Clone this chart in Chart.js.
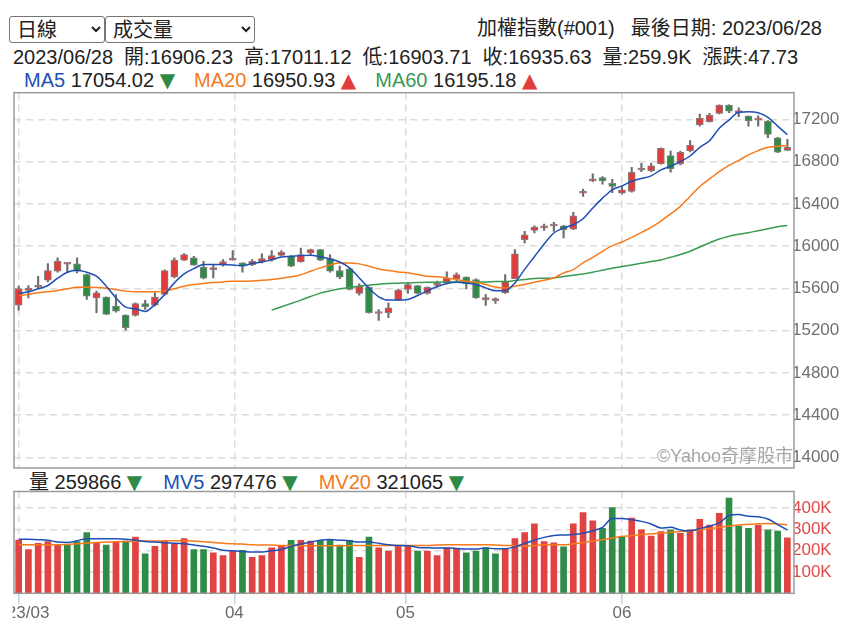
<!DOCTYPE html>
<html>
<head>
<meta charset="utf-8">
<script src="https://cdn.jsdelivr.net/npm/chart.js@4.4.0/dist/chart.umd.min.js"></script>
<style>
html,body{margin:0;padding:0;background:#fff;}
body{width:850px;height:626px;position:relative;overflow:hidden;font-family:"Liberation Sans",Arial,"Noto Sans CJK TC",sans-serif;color:#222;}
.abs{position:absolute;white-space:pre;font-size:20px;line-height:20px;}
select{position:absolute;top:16px;height:27px;font-size:20px;font-family:"Liberation Sans","Noto Sans CJK TC",sans-serif;border:1px solid #767676;border-radius:3px;background:#fff;color:#222;padding:0 0 0 3px;}
.g{margin-left:11px;}
.sp{margin-left:19px;}
.sv{margin-left:21px;}
.tri{font-family:"DejaVu Sans",sans-serif;}
.dn{color:#2e8b46;}
.up{color:#e03c3c;}
canvas{position:absolute;left:0;}
#wm{position:absolute;right:57px;top:446px;font-size:18px;line-height:20px;color:#a6a6a6;white-space:pre;}
</style>
</head>
<body>
<select style="left:9px;width:96px"><option>日線</option></select>
<select style="left:105px;width:150px"><option>成交量</option></select>
<div class="abs" style="right:28px;top:18px">加權指數(#001)<span style="margin-left:16px">最後日期: 2023/06/28</span></div>
<div class="abs" style="left:13px;top:47px">2023/06/28<span class="g">開:16906.23</span><span class="g">高:17011.12</span><span class="g">低:16903.71</span><span class="g">收:16935.63</span><span class="g">量:259.9K</span><span class="g">漲跌:47.73</span></div>
<div class="abs" style="left:24px;top:70px"><span style="color:#2150b5">MA5</span> 17054.02 <span class="tri dn">▼</span><span class="sp" style="color:#f47a1f">MA20</span> 16950.93 <span class="tri up">▲</span><span class="sp" style="color:#3a9a52">MA60</span> 16195.18 <span class="tri up">▲</span></div>
<div class="abs" style="left:29px;top:472px;font-size:20px">量 259866 <span class="tri dn">▼</span><span class="sv" style="color:#2150b5">MV5</span> 297476 <span class="tri dn">▼</span><span class="sv" style="color:#f47a1f">MV20</span> 321065 <span class="tri dn">▼</span></div>
<canvas id="price" width="850" height="384" style="top:88px"></canvas>
<canvas id="vol" width="850" height="140" style="top:486px"></canvas>
<div id="wm">©Yahoo奇摩股市</div>
<script>
const dates = [
'2023/03/01','2023/03/02','2023/03/03','2023/03/06','2023/03/07','2023/03/08','2023/03/09','2023/03/10','2023/03/13','2023/03/14','2023/03/15','2023/03/16','2023/03/17','2023/03/20','2023/03/21','2023/03/22','2023/03/23','2023/03/24','2023/03/27','2023/03/28','2023/03/29','2023/03/30','2023/03/31',
'2023/04/06','2023/04/07','2023/04/10','2023/04/11','2023/04/12','2023/04/13','2023/04/14','2023/04/17','2023/04/18','2023/04/19','2023/04/20','2023/04/21','2023/04/24','2023/04/25','2023/04/26','2023/04/27','2023/04/28',
'2023/05/02','2023/05/03','2023/05/04','2023/05/05','2023/05/08','2023/05/09','2023/05/10','2023/05/11','2023/05/12','2023/05/15','2023/05/16','2023/05/17','2023/05/18','2023/05/19','2023/05/22','2023/05/23','2023/05/24','2023/05/25','2023/05/26','2023/05/29','2023/05/30','2023/05/31',
'2023/06/01','2023/06/02','2023/06/05','2023/06/06','2023/06/07','2023/06/08','2023/06/09','2023/06/12','2023/06/13','2023/06/14','2023/06/15','2023/06/16','2023/06/19','2023/06/20','2023/06/21','2023/06/26','2023/06/27','2023/06/28'];

const opens = [15441,15580,15611,15677,15762,15830,15832,15731,15510,15517,15432,15347,15344,15457,15441,15542,15709,15866,15888,15800,15777,15819,15866,15841,15825,15850,15870,15913,15904,15850,15935,15967,15882,15769,15784,15552,15611,15362,15369,15488,15589,15627,15552,15628,15652,15693,15706,15684,15493,15484,15558,15693,16061,16149,16172,16190,16193,16161,16500,16617,16649,16595,16501,16517,16720,16715,16778,16856,16778,16900,17146,17177,17256,17334,17264,17231,17192,17184,17026,16906.23];
const highs = [15621,15627,15715,15835,15888,15836,15888,15735,15574,15520,15542,15350,15463,15488,15558,15775,15888,15929,15904,15857,15825,15872,15957,15841,15872,15926,15957,15957,15910,15982,15973,15970,15920,15810,15790,15643,15615,15400,15463,15590,15658,15630,15615,15668,15756,15747,15709,15690,15542,15510,15731,15967,16140,16193,16209,16224,16196,16319,16539,16683,16658,16633,16564,16746,16784,16784,16930,16900,16900,16998,17250,17256,17338,17338,17309,17234,17234,17187,17030,17011.12];
const lows = [15394,15510,15599,15661,15753,15753,15747,15495,15369,15350,15375,15205,15338,15400,15432,15536,15699,15863,15819,15690,15699,15810,15866,15753,15816,15841,15857,15904,15805,15847,15913,15863,15753,15693,15585,15536,15365,15297,15322,15485,15552,15548,15545,15614,15643,15668,15596,15505,15438,15457,15552,15693,16030,16124,16149,16140,16077,16155,16470,16611,16586,16507,16495,16511,16705,16705,16775,16699,16768,16891,17136,17174,17252,17262,17224,17136,17136,17026,16885,16903.71];
const closes = [15599,15602,15630,15769,15857,15834,15762,15526,15558,15353,15385,15227,15457,15426,15517,15769,15869,15920,15819,15696,15780,15854,15879,15816,15857,15882,15910,15942,15810,15920,15967,15866,15762,15706,15589,15621,15369,15372,15416,15583,15636,15552,15611,15631,15696,15731,15643,15510,15496,15487,15668,15926,16108,16180,16185,16194,16155,16287,16503,16636,16617,16564,16532,16699,16723,16759,16926,16731,16888,16957,17209,17240,17334,17278,17266,17184,17194,17058,16888,16935.63];
const volumes = [249000,205000,234000,242000,226000,229000,242000,284000,237000,226000,242000,245000,264000,185000,220000,245000,229000,256000,205000,205000,190000,177000,198000,201000,169000,177000,213000,221000,248000,248000,245000,248000,248000,226000,248000,169000,264000,213000,198000,221000,221000,198000,198000,177000,213000,210000,190000,198000,213000,185000,210000,256000,284000,326000,242000,237000,218000,326000,378000,339000,304000,402000,265000,352000,297000,268000,289000,297000,281000,297000,347000,320000,375000,446000,315000,304000,319000,297000,292000,259866];

const ma5 = [15552,15568,15596,15627,15696,15753,15772,15753,15715,15621,15510,15422,15407,15382,15448,15542,15652,15737,15787,15825,15825,15825,15822,15813,15835,15850,15870,15898,15904,15910,15913,15898,15879,15850,15794,15699,15602,15520,15489,15489,15495,15533,15577,15615,15646,15659,15652,15636,15605,15577,15577,15652,15780,15900,16020,16124,16171,16202,16259,16360,16454,16533,16570,16614,16640,16665,16721,16756,16800,16853,16935,16998,17115,17193,17268,17272,17262,17218,17136,17054.02];
const ma20 = [15530,15545,15558,15567,15580,15596,15611,15611,15608,15602,15589,15574,15567,15567,15567,15574,15596,15621,15636,15646,15655,15661,15668,15668,15671,15677,15685,15696,15709,15728,15762,15794,15822,15841,15841,15832,15810,15784,15769,15756,15747,15731,15715,15709,15699,15684,15668,15658,15636,15614,15605,15621,15636,15658,15677,15699,15747,15778,15841,15894,15951,16004,16039,16083,16130,16177,16237,16306,16376,16470,16564,16636,16705,16765,16812,16863,16904,16935,16945,16950.93];
const ma60 = [null,null,null,null,null,null,null,null,null,null,null,null,null,null,null,null,null,null,null,null,null,null,null,null,null,null,15394,15426,15457,15489,15523,15555,15577,15596,15608,15621,15630,15640,15646,15649,15652,15655,15658,15658,15661,15661,15661,15661,15661,15665,15665,15674,15684,15693,15696,15699,15712,15725,15737,15753,15772,15791,15806,15822,15838,15854,15869,15894,15920,15951,15992,16030,16068,16093,16112,16127,16146,16165,16184,16195.18];
const mv5 = [253000,253000,251000,249000,240000,238000,246000,256000,256000,256000,256000,253000,249000,243000,240000,237000,235000,232000,226000,220000,212000,202000,199000,196000,193000,193000,199000,205000,220000,231000,240000,249000,252000,249000,246000,240000,240000,234000,227000,224000,223000,215000,213000,212000,212000,210000,207000,207000,212000,209000,209000,218000,234000,249000,262000,271000,273000,275000,281000,293000,309000,350000,350000,345000,337000,325000,306000,309000,297000,293000,303000,315000,330000,364000,369000,361000,359000,348000,322000,297476];
const mv20 = [227000,227000,227000,227000,227000,229000,232000,235000,238000,240000,242000,243000,243000,245000,245000,246000,246000,246000,245000,242000,238000,235000,232000,231000,227000,226000,226000,224000,224000,223000,223000,223000,223000,223000,223000,224000,224000,224000,224000,224000,224000,224000,224000,226000,227000,227000,227000,227000,227000,226000,224000,223000,221000,224000,227000,227000,227000,232000,238000,245000,251000,259000,267000,270000,275000,279000,282000,286000,289000,293000,298000,303000,308000,315000,320000,323000,326000,327000,325000,321065];

const priceTicks = [14000,14400,14800,15200,15600,16000,16400,16800,17200];
const volumeTicks = [100000,200000,300000,400000];
const monthStarts = ['2023/03/01','2023/04/01','2023/05/01','2023/06/01'];
const monthLabels = ['2023/03','04','05','06'];

// ---- derived ----
const toT = s => Date.parse(s.replace(/\//g,'-') + 'T00:00:00Z');
const times = dates.map(toT);
function posOf(s){
  const t = toT(s);
  for (let i = 0; i < times.length; i++){
    if (times[i] === t) return i;
    if (times[i] > t) return i === 0 ? 0 : (i - 1) + (t - times[i-1]) / (times[i] - times[i-1]);
  }
  return times.length - 1;
}
const monthPos = monthStarts.map(posOf);

const UP = '#e03c3c', DOWN = '#2e8b46';
const candleColors = closes.map((c,i) => c >= opens[i] ? UP : DOWN);
const volColors = closes.map((c,i) => (i === 0 ? c >= opens[i] : c >= closes[i-1]) ? '#e14242' : '#2f8c47');

const X_MIN = -0.48, X_MAX = 79.68;
const FONT = '"Liberation Sans", Arial, sans-serif';

const boxPlugin = {
  id: 'box',
  afterDraw(chart){
    const {ctx, chartArea: a} = chart;
    ctx.save();
    ctx.strokeStyle = '#9a9a9a';
    ctx.lineWidth = 1.5;
    ctx.strokeRect(a.left, a.top, a.right - a.left, a.bottom - a.top);
    ctx.restore();
  }
};
// the reference clips its date labels a little inside the left edge
const clipPlugin = {
  id: 'clipLeft',
  beforeDraw(chart){
    const {ctx, width, height} = chart;
    ctx.save();
    ctx.beginPath();
    ctx.rect(12.5, 0, width, height);
    ctx.clip();
  },
  afterDraw(chart){ chart.ctx.restore(); }
};

const pts = arr => arr.map((v,i) => ({x: i, y: v}));
const lineDs = (label, arr, color) => ({
  type: 'line', label, data: pts(arr), borderColor: color, borderWidth: 1.5,
  pointRadius: 0, cubicInterpolationMode: 'monotone', spanGaps: false, order: 0
});

const xBase = () => ({
  type: 'linear', min: X_MIN, max: X_MAX, offset: false, bounds: 'data',
  afterBuildTicks: s => { s.ticks = monthPos.map(v => ({value: v})); },
  border: {display: false, dash: [7,5]}
});

new Chart(document.getElementById('price'), {
  type: 'bar',
  data: {
    datasets: [
      lineDs('MA5', ma5, '#1f4fb5'),
      lineDs('MA20', ma20, '#f77a1a'),
      lineDs('MA60', ma60, '#3a9a52'),
      {
        type: 'bar', label: 'body', data: opens.map((o,i) => ({x: i, y: [o, closes[i]]})),
        backgroundColor: candleColors, borderColor: '#808080', borderWidth: 1, borderSkipped: false,
        barThickness: 7, minBarLength: 2, grouped: false, order: 1
      },
      {
        type: 'bar', label: 'wick', data: lows.map((l,i) => ({x: i, y: [l, highs[i]]})),
        backgroundColor: '#6e6e6e', barThickness: 1.5, grouped: false, order: 2
      }
    ]
  },
  options: {
    responsive: false, animation: false, devicePixelRatio: 1,
    layout: {padding: {left: 14, right: 0, top: 4.7, bottom: 4}},
    plugins: {legend: {display: false}, tooltip: {enabled: false}},
    scales: {
      x: Object.assign(xBase(), {
        ticks: {display: false},
        grid: {offset: false, color: '#dcdcdc', lineWidth: 1.5, drawTicks: false},
        afterFit: s => { s.height = 0; s.paddingLeft = 0; s.paddingRight = 0; }
      }),
      y: {
        position: 'right', min: 13900, max: 17452, bounds: 'data',
        afterBuildTicks: s => { s.ticks = priceTicks.map(v => ({value: v})); },
        ticks: {color: '#707070', font: {size: 17, family: FONT}, padding: -2, callback: v => String(v)},
        grid: {color: '#dcdcdc', lineWidth: 1.5, drawTicks: false},
        border: {display: false, dash: [7,5]},
        afterFit: s => { s.width = 56; s.paddingTop = 0; s.paddingBottom = 0; }
      }
    }
  },
  plugins: [boxPlugin]
});

new Chart(document.getElementById('vol'), {
  type: 'bar',
  data: {
    datasets: [
      lineDs('MV5', mv5, '#1f4fb5'),
      lineDs('MV20', mv20, '#f77a1a'),
      {
        type: 'bar', label: '量', data: pts(volumes), backgroundColor: volColors,
        barThickness: 6, grouped: false, order: 1
      }
    ]
  },
  options: {
    responsive: false, animation: false, devicePixelRatio: 1,
    layout: {padding: {left: 14, right: 0, top: 5.5, bottom: 0}},
    plugins: {legend: {display: false}, tooltip: {enabled: false}},
    scales: {
      x: Object.assign(xBase(), {
        ticks: {color: '#6a6a6a', font: {size: 17, family: FONT}, padding: -1, maxRotation: 0, autoSkip: false,
                callback: (v, i) => monthLabels[i]},
        grid: {offset: false, color: '#dcdcdc', lineWidth: 1.5, drawTicks: true, tickLength: 11,
               tickColor: '#bfd2e8', tickWidth: 1.5, tickBorderDash: []},
        afterFit: s => { s.height = 32.7; s.paddingLeft = 0; s.paddingRight = 0; }
      }),
      y: {
        position: 'right', min: 0, max: 477000, bounds: 'data',
        afterBuildTicks: s => { s.ticks = volumeTicks.map(v => ({value: v})); },
        ticks: {color: '#e24848', font: {size: 17, family: FONT}, padding: -2, callback: v => (v / 1000) + 'K'},
        grid: {color: '#dcdcdc', lineWidth: 1.5, drawTicks: false},
        border: {display: false, dash: [7,5]},
        afterFit: s => { s.width = 56; s.paddingTop = 0; s.paddingBottom = 0; }
      }
    }
  },
  plugins: [boxPlugin, clipPlugin]
});
</script>
</body>
</html>
